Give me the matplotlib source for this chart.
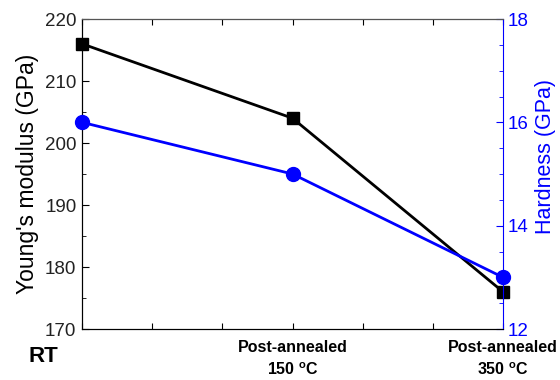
import matplotlib
matplotlib.use('Agg')
import matplotlib.pyplot as plt
from matplotlib.ticker import MultipleLocator
import matplotlib.transforms as mtransforms

plt.rcParams['font.family'] = ['Liberation Sans', 'DejaVu Sans']

# 数据
x_pos = [0, 3, 6]
modulus = [216, 204, 176]
hardness = [16, 15, 13]
labels_top = ['Post-annealed', 'Post-annealed']
labels_bot = ['150 $^{\\mathregular{o}}$C', '350 $^{\\mathregular{o}}$C']

fig = plt.figure(figsize=(5.6, 3.8), dpi=100)
ax = fig.add_axes([82/560, 1-329/380, (503-82)/560, (329-19)/380])
ax2 = ax.twinx()

ax.plot(x_pos, modulus, '-', color='black', lw=2, marker='s', ms=8, clip_on=False, zorder=3)
ax2.plot(x_pos, hardness, '-', color='blue', lw=2, marker='o', ms=10, clip_on=False, zorder=3)

ax.set_xlim(0, 6)
ax.set_ylim(170, 220)
ax2.set_ylim(12, 18)

ax.yaxis.set_major_locator(MultipleLocator(10))
ax.yaxis.set_minor_locator(MultipleLocator(5))
ax2.yaxis.set_major_locator(MultipleLocator(2))
ax2.yaxis.set_minor_locator(MultipleLocator(0.5))
ax.xaxis.set_major_locator(MultipleLocator(1))

ax.tick_params(axis='y', which='both', direction='in', labelsize=13.5, left=True, right=False,
               labelcolor='#222222', pad=4)
ax.tick_params(axis='y', which='major', length=5)
ax.tick_params(axis='y', which='minor', length=3)
ax.tick_params(axis='x', direction='in', length=4, top=True, bottom=True, labelbottom=False)
ax2.tick_params(axis='y', which='both', direction='in', colors='blue', labelsize=13.5, pad=3)
ax2.tick_params(axis='y', which='major', length=5)
ax2.tick_params(axis='y', which='minor', length=3)

ax2.spines['right'].set_color('blue')
ax.spines['right'].set_visible(False)
ax2.spines['top'].set_color('#555555')

ax.set_ylabel("Young's modulus (GPa)", fontsize=16.5, labelpad=4)
ax2.set_ylabel('Hardness (GPa)', fontsize=15.5, color='blue')
ax2.yaxis.set_label_coords(1.075, 0.555)

# x轴标签
trans = mtransforms.blended_transform_factory(ax.transData, fig.transFigure)
ax.text(-0.55, 1-356/380, 'RT', transform=trans, ha='center', va='center',
        fontsize=16, fontweight='bold')
for xp, t1, t2 in zip(x_pos[1:], labels_top, labels_bot):
    ax.text(xp, 1-347/380, t1, transform=trans, ha='center', va='center',
            fontsize=11.5, fontweight='bold')
    ax.text(xp, 1-370/380, t2, transform=trans, ha='center', va='center',
            fontsize=11.5, fontweight='bold')

fig.savefig('out.png', dpi=100)
